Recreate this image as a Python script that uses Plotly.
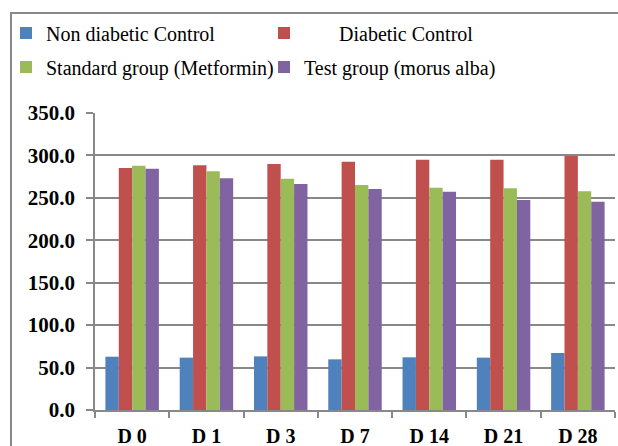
import plotly.graph_objects as go

categories = ["D 0", "D 1", "D 3", "D 7", "D 14", "D 21", "D 28"]
non_diabetic = [62.8, 61.7, 63.2, 59.7, 62.1, 61.7, 67.2]
diabetic = [285.2, 288.3, 289.9, 292.6, 295.0, 295.0, 299.3]
standard = [287.9, 281.3, 272.6, 265.1, 262.0, 261.2, 257.7]
test = [284.4, 273.0, 266.3, 260.4, 257.3, 247.5, 245.5]

names = ["Non diabetic Control", "\u00a0" * 7 + "Diabetic Control",
         "Standard group (Metformin)", "Test group (morus alba)"]
colors = ["#4F81BD", "#C0504D", "#9BBB59", "#8064A2"]
series = [non_diabetic, diabetic, standard, test]
legends = ["legend", "legend", "legend2", "legend2"]

W, H = 618, 446
L, R, T, B = 95, 3, 113, 36
pw, ph = W - L - R, H - T - B

def px_x(x):
    return (x - L) / pw

def px_y(y):
    return (H - B - y) / ph

fig = go.Figure()
for n, c, s, lg in zip(names, colors, series, legends):
    fig.add_trace(go.Bar(x=categories, y=s, name=n, marker=dict(color=c, line=dict(width=0)),
                         legend=lg))

font = "Liberation Serif"
leg_common = dict(orientation="h", xanchor="left", yanchor="middle",
                  entrywidth=213, entrywidthmode="pixels",
                  font=dict(family=font, size=20, color="#000"),
                  bgcolor="rgba(0,0,0,0)", itemclick=False, traceorder="normal")

fig.update_layout(
    width=W, height=H,
    margin=dict(l=L, r=R, t=T, b=B, autoexpand=False),
    paper_bgcolor="white", plot_bgcolor="white",
    barmode="group", bargap=0.28, bargroupgap=0,
    font=dict(family=font, color="#000"),
    legend=dict(x=px_x(6), y=px_y(33), **leg_common),
    legend2=dict(x=px_x(6), y=px_y(67), **leg_common),
    xaxis=dict(showline=True, linecolor="#888", linewidth=1.5, automargin=False,
               ticks="outside", tickson="boundaries", ticklen=6, tickcolor="#888", tickwidth=1.5,
               ticklabelstandoff=7,
               tickfont=dict(family=font, size=20, color="#000", weight="bold"),
               showgrid=False),
    yaxis=dict(range=[0, 350], dtick=50, tickformat=".1f", automargin=False,
               showline=True, linecolor="#888", linewidth=1.5,
               ticks="outside", ticklen=7, tickcolor="#888", tickwidth=1.5,
               ticklabelstandoff=7,
               gridcolor="#888", gridwidth=1.5,
               tickfont=dict(family=font, size=21, color="#000", weight="bold"),
               zeroline=False),
    shapes=[dict(type="rect", xref="paper", yref="paper",
                 x0=px_x(11), x1=px_x(W + 20), y0=px_y(H + 20), y1=px_y(13),
                 line=dict(color="#888", width=2), fillcolor="rgba(0,0,0,0)", layer="below")],
)

fig.write_html("out.html", config={"displayModeBar": False},
               post_script="document.body.style.margin='0';")
